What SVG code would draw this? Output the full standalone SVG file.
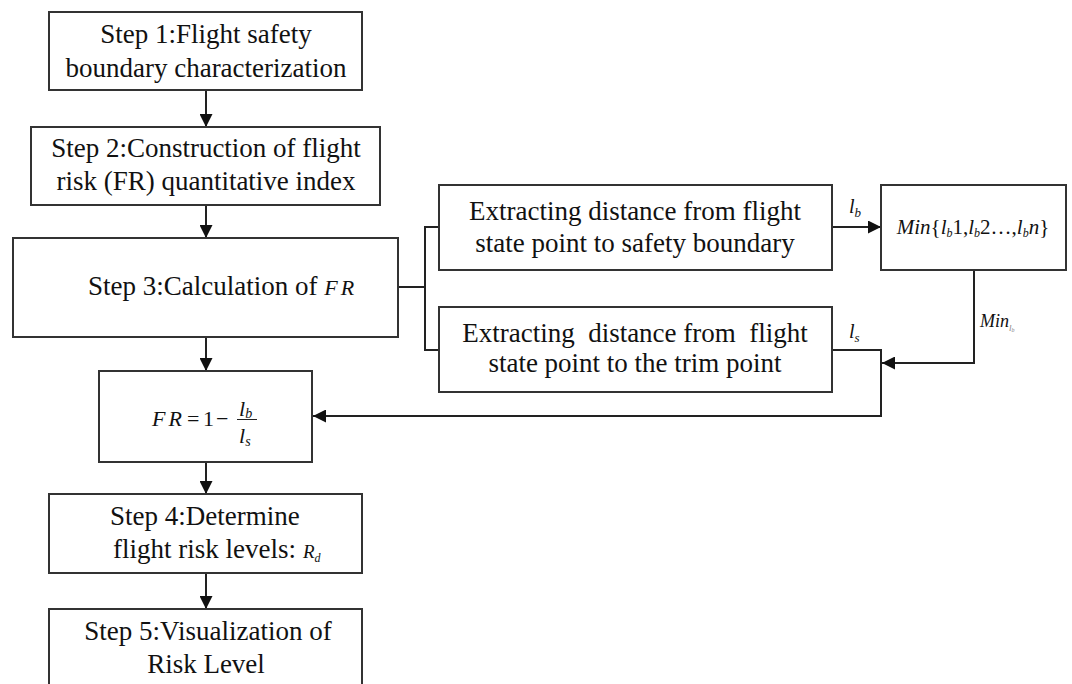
<svg xmlns="http://www.w3.org/2000/svg" width="1072" height="684" viewBox="0 0 1072 684">
<style>
  .box { fill: #ffffff; stroke: #333333; stroke-width: 2; }
  .t { font-family: "Liberation Serif", "Times New Roman", serif; font-size: 27px; fill: #111111; }
  .m { font-family: "Liberation Serif", "Times New Roman", serif; font-style: italic; fill: #111111; }
  .u { font-style: normal; }
  .ln { fill: none; stroke: #222222; stroke-width: 2; }
  .arr { fill: none; stroke: #222222; stroke-width: 2; marker-end: url(#ah); }
</style>
<defs>
  <marker id="ah" markerUnits="userSpaceOnUse" markerWidth="14" markerHeight="13" refX="13" refY="6.5" orient="auto">
    <path d="M0,0 L13,6.5 L0,13 z" fill="#111111"/>
  </marker>
</defs>
<rect width="1072" height="684" fill="#ffffff"/>

<g id="connectors">
  <line class="arr" x1="206" y1="90" x2="206" y2="127"/>
  <line class="arr" x1="206" y1="205" x2="206" y2="238"/>
  <line class="arr" x1="206" y1="337" x2="206" y2="371"/>
  <line class="arr" x1="206" y1="462" x2="206" y2="494"/>
  <line class="arr" x1="206" y1="573" x2="206" y2="609"/>
  <polyline class="ln" points="398,287 425,287"/>
  <polyline class="ln" points="439,227 425,227 425,350 439,350"/>
  <line class="arr" x1="832" y1="227" x2="881" y2="227"/>
  <polyline class="arr" points="974,270 974,363 882,363"/>
  <polyline class="arr" points="832,350 881,350 881,416 313,416"/>
  <text class="m" x="849" y="213" font-size="20">l<tspan font-size="13" dy="4">b</tspan></text>
  <text class="m" x="849" y="338" font-size="20">l<tspan font-size="13" dy="4">s</tspan></text>
  <text class="m" x="980" y="327" font-size="18">Min<tspan font-size="9" dy="4" fill="#888888">l</tspan><tspan font-size="6" dy="1" fill="#888888">b</tspan></text>
</g>

<g id="step1">
  <rect class="box" x="49" y="12" width="313" height="78"/>
  <text class="t" x="206" y="43" text-anchor="middle">Step 1:Flight safety</text>
  <text class="t" x="206" y="77" text-anchor="middle">boundary characterization</text>
</g>

<g id="step2">
  <rect class="box" x="31" y="127" width="349" height="78"/>
  <text class="t" x="206" y="157" text-anchor="middle">Step 2:Construction of flight</text>
  <text class="t" x="206" y="190" text-anchor="middle">risk (FR) quantitative index</text>
</g>

<g id="step3">
  <rect class="box" x="13" y="238" width="385" height="99"/>
  <text class="t" x="88" y="295">Step 3:Calculation of <tspan class="m" font-size="22" letter-spacing="3">FR</tspan></text>
</g>

<g id="extract-boundary">
  <rect class="box" x="439" y="185" width="393" height="85"/>
  <text class="t" x="635" y="220" text-anchor="middle">Extracting distance from flight</text>
  <text class="t" x="635" y="252" text-anchor="middle">state point to safety boundary</text>
</g>

<g id="extract-trim">
  <rect class="box" x="439" y="307" width="393" height="85"/>
  <text class="t" x="635" y="342" text-anchor="middle">Extracting&#160; distance from&#160; flight</text>
  <text class="t" x="635" y="372" text-anchor="middle">state point to the trim point</text>
</g>

<g id="min-box">
  <rect class="box" x="881" y="185" width="185" height="85"/>
  <text class="m" x="973" y="234" font-size="21" text-anchor="middle">Min<tspan class="u">{</tspan>l<tspan font-size="12" dy="3">b</tspan><tspan class="u" dy="-3">1,</tspan>l<tspan font-size="12" dy="3">b</tspan><tspan class="u" dy="-3">2…,</tspan>l<tspan font-size="12" dy="3">b</tspan><tspan dy="-3">n</tspan><tspan class="u">}</tspan></text>
</g>

<g id="fr-formula">
  <rect class="box" x="99" y="371" width="213" height="91"/>
  <text class="m" x="152" y="426" font-size="22" letter-spacing="3">FR</text>
  <text class="m u" x="187" y="426" font-size="22">=</text>
  <text class="m u" x="203" y="426" font-size="22">1</text>
  <text class="m u" x="216" y="426" font-size="22">−</text>
  <line x1="237" y1="419.5" x2="257" y2="419.5" stroke="#222222" stroke-width="1"/>
  <text class="m" x="239" y="416" font-size="22">l<tspan font-size="14" dy="2">b</tspan></text>
  <text class="m" x="239" y="443" font-size="22">l<tspan font-size="14" dy="3">s</tspan></text>
</g>

<g id="step4">
  <rect class="box" x="49" y="494" width="313" height="79"/>
  <text class="t" x="110" y="525">Step 4:Determine</text>
  <text class="t" x="113" y="558">flight risk levels:</text>
  <text class="m" x="303" y="558" font-size="19">R<tspan font-size="12" dy="4">d</tspan></text>
</g>

<g id="step5">
  <rect class="box" x="49" y="609" width="313" height="90"/>
  <text class="t" x="208" y="640" text-anchor="middle">Step 5:Visualization of</text>
  <text class="t" x="206" y="673" text-anchor="middle">Risk Level</text>
</g>
</svg>
